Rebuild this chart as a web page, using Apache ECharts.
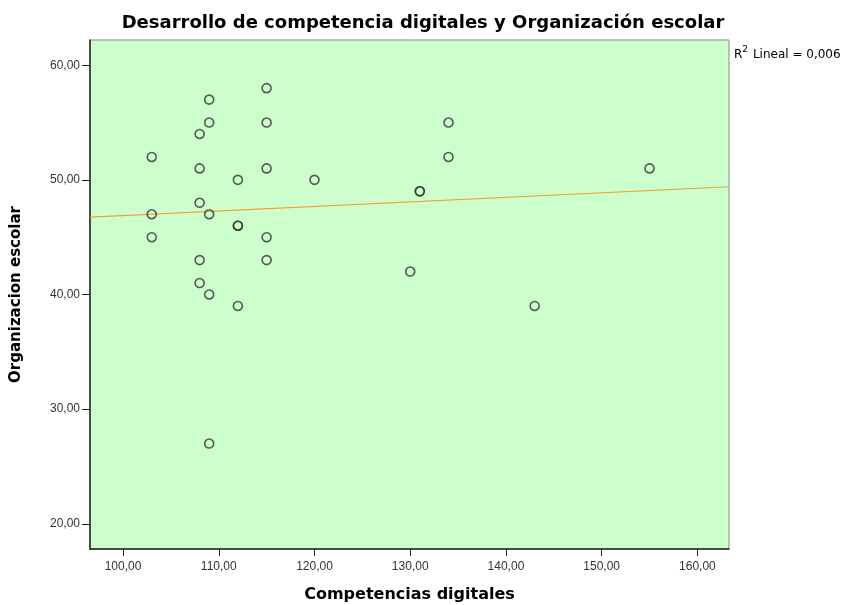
<!DOCTYPE html>
<html>
<head>
<meta charset="utf-8">
<script src="https://cdn.jsdelivr.net/npm/echarts@6/dist/echarts.min.js"></script>
<style>
    html, body { margin: 0; padding: 0; background: #fff; }
    #chart { width: 843px; height: 605px; }
</style>
</head>
<body>
<div id="chart"></div>
<script>
// Competencias digitales (x) / Organizacion escolar (y)
const competencias = [103, 103, 103, 108, 108, 108, 108, 108, 109, 109, 109, 109, 109,
    112, 112, 112, 112, 115, 115, 115, 115, 115, 120, 130, 131, 131, 134, 134, 143, 155];
const organizacion = [52, 47, 45, 54, 51, 48, 43, 41, 57, 55, 47, 40, 27,
    50, 46, 46, 39, 58, 55, 51, 45, 43, 50, 42, 49, 49, 55, 52, 39, 51];

const ajusteX = [96.55, 163.3];
const ajusteY = [46.75, 49.4];

const xTicks = [100, 110, 120, 130, 140, 150, 160];
const yTicks = [20, 30, 40, 50, 60];

const puntos = competencias.map((v, i) => [v, organizacion[i]]);
const recta = ajusteX.map((v, i) => [v, ajusteY[i]]);

const fmt = v => v.toFixed(2).replace('.', ',');
const fontFam = '"Liberation Sans", Arial, sans-serif';
const fontBold = '"DejaVu Sans", sans-serif';

let myChart = echarts.init(document.getElementById('chart'));
myChart.setOption({
    animation: false,
    title: [{
        text: 'Desarrollo de competencia digitales y Organización escolar',
        left: 418,
        top: 9,
        textAlign: 'center',
        textStyle: { fontFamily: fontBold, fontSize: 18, fontWeight: 'bold', color: '#000' }
    }, {
        text: '{r|R}{sup|2}{r| Lineal = 0,006}',
        left: 729,
        top: 40,
        textStyle: {
            fontWeight: 'normal',
            rich: {
                r: { fontFamily: fontBold, fontSize: 12, fontWeight: 'normal', color: '#000', verticalAlign: 'bottom', lineHeight: 16 },
                sup: { fontFamily: fontBold, fontSize: 9, fontWeight: 'normal', color: '#000', verticalAlign: 'top', lineHeight: 16, padding: [0, 1, 5, 0] }
            }
        }
    }],
    grid: {
        left: 90,
        right: 114,
        top: 40,
        bottom: 56,
        containLabel: false,
        outerBoundsMode: 'none',
        show: true,
        backgroundColor: '#ccffcc',
        borderColor: '#888',
        borderWidth: 1
    },
    xAxis: {
        type: 'value',
        min: 96.55,
        max: 163.3,
        name: 'Competencias digitales',
        nameLocation: 'middle',
        nameGap: 38,
        nameTextStyle: { fontFamily: fontBold, fontSize: 16, fontWeight: 'bold', color: '#000' },
        splitLine: { show: false },
        axisLine: { lineStyle: { color: '#222', width: 1.5 } },
        axisTick: { length: 7, customValues: xTicks, lineStyle: { color: '#222' } },
        axisLabel: {
            customValues: xTicks,
            formatter: fmt,
            fontFamily: fontFam,
            fontSize: 12,
            color: '#333',
            margin: 12
        }
    },
    yAxis: {
        type: 'value',
        min: 17.8,
        max: 62.2,
        name: 'Organizacion escolar',
        nameLocation: 'middle',
        nameGap: 66,
        nameTextStyle: { fontFamily: fontBold, fontSize: 15, fontWeight: 'bold', color: '#000' },
        splitLine: { show: false },
        axisLine: { lineStyle: { color: '#222', width: 1.5 } },
        axisTick: { length: 8, customValues: yTicks, lineStyle: { color: '#222' } },
        axisLabel: {
            customValues: yTicks,
            formatter: fmt,
            fontFamily: fontFam,
            fontSize: 12,
            color: '#333',
            margin: 10
        }
    },
    series: [{
        type: 'line',
        data: recta,
        showSymbol: false,
        silent: true,
        lineStyle: { color: '#f2a133', width: 1.2 },
        z: 2
    }, {
        type: 'scatter',
        data: puntos,
        symbol: 'circle',
        symbolSize: 9,
        itemStyle: { color: 'rgba(0,0,0,0)', borderColor: '#333', borderWidth: 1.6 },
        z: 3
    }]
});
</script>
</body>
</html>
